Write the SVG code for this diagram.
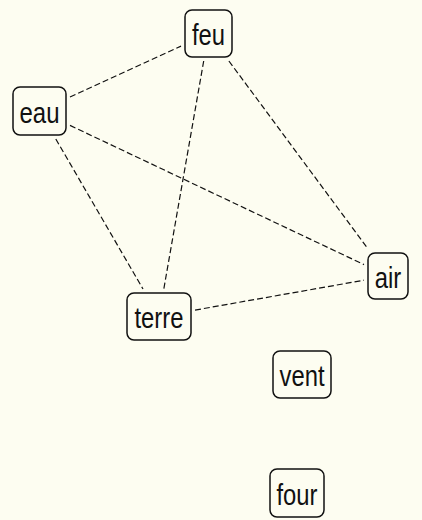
<svg xmlns="http://www.w3.org/2000/svg" width="422" height="520" viewBox="0 0 422 520">
<style>
.bg{fill:#fdfdf1}
.node rect{fill:#fdfdf1;stroke:#111;stroke-width:1.5}
.node text{font-family:"Liberation Sans",Arial,sans-serif;font-size:29px;fill:#111;text-anchor:middle}
.edges line{stroke:#111;stroke-width:1.2;stroke-dasharray:6,3;fill:none}
</style>
<rect class="bg" x="0" y="0" width="422" height="520"/>
<g id="edges" class="edges">
<line x1="70" y1="97" x2="181" y2="46.1"/>
<line x1="55.8" y1="139" x2="143" y2="289"/>
<line x1="70" y1="125.4" x2="364" y2="264.6"/>
<line x1="203.7" y1="61" x2="163.8" y2="289"/>
<line x1="228.9" y1="61" x2="368.1" y2="249"/>
<line x1="195" y1="310.1" x2="364" y2="280.2"/>
</g>
<g id="feu" class="node"><rect x="185" y="10" width="47" height="47" rx="7"/><text x="208.5" y="45" textLength="33" lengthAdjust="spacingAndGlyphs">feu</text></g>
<g id="eau" class="node"><rect x="13" y="87" width="53" height="48" rx="7"/><text x="39.5" y="122.5" textLength="40" lengthAdjust="spacingAndGlyphs">eau</text></g>
<g id="terre" class="node"><rect x="127" y="293" width="64" height="47" rx="7"/><text x="159" y="328" textLength="49" lengthAdjust="spacingAndGlyphs">terre</text></g>
<g id="air" class="node"><rect x="368" y="253" width="40" height="46" rx="7"/><text x="388" y="287.5" textLength="26.5" lengthAdjust="spacingAndGlyphs">air</text></g>
<g id="vent" class="node"><rect x="273" y="351" width="58" height="47" rx="7"/><text x="302" y="386" textLength="45" lengthAdjust="spacingAndGlyphs">vent</text></g>
<g id="four" class="node"><rect x="270" y="469" width="54" height="48" rx="7"/><text x="297" y="504.5" textLength="41" lengthAdjust="spacingAndGlyphs">four</text></g>
</svg>
